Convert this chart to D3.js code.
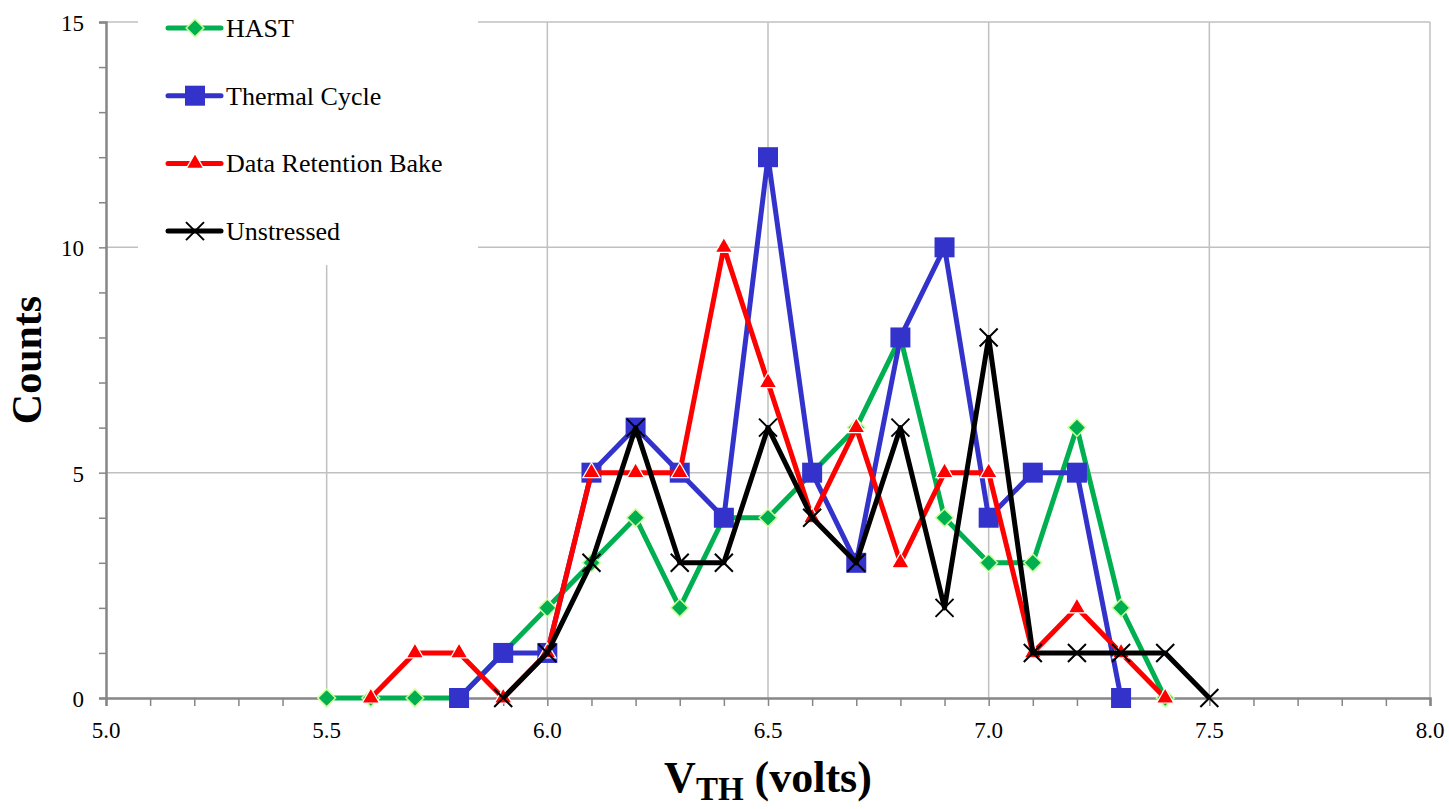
<!DOCTYPE html>
<html>
<head>
<meta charset="utf-8">
<script src="https://cdn.jsdelivr.net/npm/d3@7/dist/d3.min.js"></script>
<style>
  body { margin: 0; background: #fff; }
  svg { display: block; }
</style>
</head>
<body>
<svg id="chart" width="1449" height="809"></svg>
<script>
const fontFamily = "'Liberation Serif', 'Times New Roman', serif";
const width = 1449, height = 809;

// Threshold voltage bins (volts) and counts per stress condition
const hastX = [5.5, 5.6, 5.7, 5.8, 5.9, 6.0, 6.1, 6.2, 6.3, 6.4, 6.5, 6.6, 6.7, 6.8, 6.9, 7.0, 7.1, 7.2, 7.3, 7.4];
const hastY = [0, 0, 0, 0, 1, 2, 3, 4, 2, 4, 4, 5, 6, 8, 4, 3, 3, 6, 2, 0];

const thermalX = [5.8, 5.9, 6.0, 6.1, 6.2, 6.3, 6.4, 6.5, 6.6, 6.7, 6.8, 6.9, 7.0, 7.1, 7.2, 7.3];
const thermalY = [0, 1, 1, 5, 6, 5, 4, 12, 5, 3, 8, 10, 4, 5, 5, 0];

const bakeX = [5.6, 5.7, 5.8, 5.9, 6.0, 6.1, 6.2, 6.3, 6.4, 6.5, 6.6, 6.7, 6.8, 6.9, 7.0, 7.1, 7.2, 7.3, 7.4];
const bakeY = [0, 1, 1, 0, 1, 5, 5, 5, 10, 7, 4, 6, 3, 5, 5, 1, 2, 1, 0];

const unstressedX = [5.9, 6.0, 6.1, 6.2, 6.3, 6.4, 6.5, 6.6, 6.7, 6.8, 6.9, 7.0, 7.1, 7.2, 7.3, 7.4, 7.5];
const unstressedY = [0, 1, 3, 6, 3, 3, 6, 4, 3, 6, 2, 8, 1, 1, 1, 1, 0];

const xTicks = [5.0, 5.5, 6.0, 6.5, 7.0, 7.5, 8.0];
const yTicks = [0, 5, 10, 15];

const series = [
  { name: "HAST", xs: hastX, ys: hastY, color: "#00b050", marker: "diamond" },
  { name: "Thermal Cycle", xs: thermalX, ys: thermalY, color: "#3333cc", marker: "square" },
  { name: "Data Retention Bake", xs: bakeX, ys: bakeY, color: "#ff0000", marker: "triangle" },
  { name: "Unstressed", xs: unstressedX, ys: unstressedY, color: "#000000", marker: "cross" }
];

const svg = d3.select("#chart");
const x = d3.scaleLinear().domain([5.0, 8.0]).range([106, 1430]);
const y = d3.scaleLinear().domain([0, 15]).range([698, 22]);

// Gridlines
svg.append("g")
  .selectAll("line.vgrid")
  .data(xTicks.slice(1))
  .enter().append("line")
  .attr("x1", d => x(d)).attr("x2", d => x(d))
  .attr("y1", y(15)).attr("y2", y(0))
  .attr("stroke", "#c0c0c0").attr("stroke-width", 1.5);

svg.append("g")
  .selectAll("line.hgrid")
  .data(yTicks.slice(1))
  .enter().append("line")
  .attr("x1", x(5.0)).attr("x2", x(8.0))
  .attr("y1", d => y(d)).attr("y2", d => y(d))
  .attr("stroke", "#c0c0c0").attr("stroke-width", 1.5);

// Axes
const xAxis = d3.axisBottom(x)
  .tickValues(d3.range(50, 81).map(d => d / 10))
  .tickSize(8)
  .tickFormat("");
svg.append("g")
  .attr("transform", `translate(0,${y(0)})`)
  .call(xAxis)
  .call(g => g.select(".domain").attr("stroke", "#868686").attr("stroke-width", 2.5))
  .call(g => g.selectAll(".tick line").attr("stroke", "#868686").attr("stroke-width", 1.5));

const yAxis = d3.axisLeft(y)
  .tickValues(d3.range(0, 16))
  .tickSize(7)
  .tickFormat("");
svg.append("g")
  .attr("transform", `translate(${x(5.0)},0)`)
  .call(yAxis)
  .call(g => g.select(".domain").attr("stroke", "#868686").attr("stroke-width", 2.5))
  .call(g => g.selectAll(".tick line").attr("stroke", "#868686").attr("stroke-width", 1.5));

// Tick labels
svg.append("g")
  .selectAll("text")
  .data(xTicks)
  .enter().append("text")
  .attr("x", d => x(d))
  .attr("y", 738)
  .attr("text-anchor", "middle")
  .attr("font-family", fontFamily)
  .attr("font-size", "23px")
  .text(d => d.toFixed(1));

svg.append("g")
  .selectAll("text")
  .data(yTicks)
  .enter().append("text")
  .attr("x", 84)
  .attr("y", d => y(d) + 9)
  .attr("text-anchor", "end")
  .attr("font-family", fontFamily)
  .attr("font-size", "23px")
  .text(d => d);

// Axis titles
svg.append("text")
  .attr("transform", "translate(41,360) rotate(-90)")
  .attr("text-anchor", "middle")
  .attr("font-family", fontFamily)
  .attr("font-size", "42px")
  .attr("font-weight", "700")
  .text("Counts");

const xt = svg.append("text")
  .attr("x", 768)
  .attr("y", 792)
  .attr("text-anchor", "middle")
  .attr("font-family", fontFamily)
  .attr("font-size", "44px")
  .attr("font-weight", "700");
xt.append("tspan").text("V");
xt.append("tspan").attr("font-size", "33px").attr("dy", 8).text("TH");
xt.append("tspan").attr("dy", -8).text(" (volts)");

// Marker drawing
function drawMarker(g, type, color, cx, cy) {
  if (type === "diamond") {
    g.append("path")
      .attr("d", d3.symbol().type(d3.symbolDiamond2).size(200)())
      .attr("transform", `translate(${cx},${cy})`)
      .attr("fill", color).attr("stroke", "#ccff99").attr("stroke-width", 1.5);
  } else if (type === "square") {
    g.append("rect")
      .attr("x", cx - 10).attr("y", cy - 10)
      .attr("width", 20).attr("height", 20)
      .attr("fill", color);
  } else if (type === "triangle") {
    g.append("path")
      .attr("d", d3.symbol().type(d3.symbolTriangle).size(130)())
      .attr("transform", `translate(${cx},${cy})`)
      .attr("fill", color).attr("stroke", "#ffffff").attr("stroke-width", 1.2);
  } else {
    g.append("path")
      .attr("d", `M${cx - 9},${cy - 9}L${cx + 9},${cy + 9}M${cx - 9},${cy + 9}L${cx + 9},${cy - 9}`)
      .attr("stroke", color).attr("stroke-width", 2);
  }
}

// Series lines and markers
const line = d3.line().x(d => x(d[0])).y(d => y(d[1]));
series.forEach(s => {
  const pts = s.xs.map((v, i) => [v, s.ys[i]]);
  const g = svg.append("g");
  g.append("path")
    .datum(pts)
    .attr("d", line)
    .attr("fill", "none")
    .attr("stroke", s.color)
    .attr("stroke-width", 5)
    .attr("stroke-linejoin", "round");
  pts.forEach(p => drawMarker(g, s.marker, s.color, x(p[0]), y(p[1])));
});

// Legend
const legend = svg.append("g");
legend.append("rect")
  .attr("x", 138).attr("y", 0)
  .attr("width", 340).attr("height", 265)
  .attr("fill", "#fff");

series.forEach((s, i) => {
  const ly = 28 + i * 67.7;
  legend.append("line")
    .attr("x1", 168).attr("x2", 221)
    .attr("y1", ly).attr("y2", ly)
    .attr("stroke", s.color).attr("stroke-width", 5)
    .attr("stroke-linecap", "round");
  drawMarker(legend, s.marker, s.color, 195, ly);
  legend.append("text")
    .attr("x", 226)
    .attr("y", ly + 9)
    .attr("font-family", fontFamily)
    .attr("font-size", "26px")
    .text(s.name);
});
</script>
</body>
</html>
